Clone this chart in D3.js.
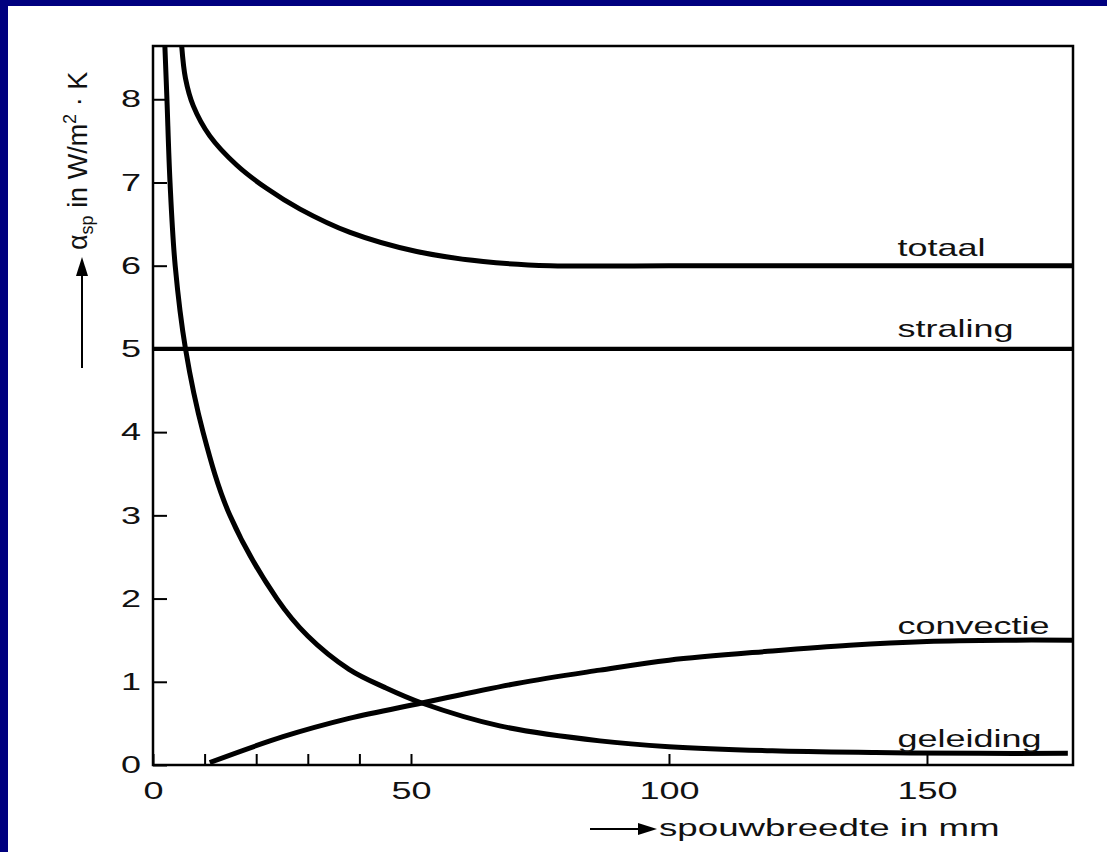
<!DOCTYPE html>
<html>
<head>
<meta charset="utf-8">
<script src="https://cdn.jsdelivr.net/npm/d3@7"></script>
<style>
  html, body { margin: 0; padding: 0; background: #fff; overflow: hidden; }
  svg { display: block; }
</style>
</head>
<body>
<svg id="chart" width="1107" height="852"></svg>
<script>
// values (x = spouwbreedte in mm, y = alpha in W/m2K)
var totaal = [[5.56, 8.64], [6.3, 8.25], [7.81, 7.92], [11, 7.56], [16.2, 7.21], [22, 6.93], [28.5, 6.68],
    [38.2, 6.4], [51.1, 6.17], [64, 6.05], [77, 6.0], [100, 6.0], [178.3, 6.0]];
var straling = [[0, 5], [178.3, 5]];
var convectie = [[11, 0.03], [25.2, 0.34], [38, 0.56], [52.1, 0.745], [70.5, 0.98],
    [86.6, 1.14], [100, 1.26], [120, 1.37], [135, 1.44], [150, 1.485], [165, 1.5], [178.3, 1.5]];
var geleiding = [[2.3, 8.64], [2.7, 8.0], [3.3, 7.0], [4.3, 6.0], [6.3, 5.0], [9.7, 4.0],
    [14.9, 3.0], [24, 2.0], [30, 1.55], [38, 1.15], [45, 0.93], [52.1, 0.745], [67.2, 0.47],
    [86.6, 0.29], [100, 0.22], [120, 0.17], [140, 0.15], [160, 0.14], [177.3, 0.14]];

var seriesNames = ["totaal", "straling", "convectie", "geleiding"];
var xTickLabels = [0, 50, 100, 150];
var xMinorTicks = [10, 20, 30, 40];
var yTickLabels = [0, 1, 2, 3, 4, 5, 6, 7, 8];

var font = "'Liberation Sans', Arial, Helvetica, sans-serif";
var margin = { top: 46, right: 34, bottom: 87, left: 153 };
var width = 1107 - margin.left - margin.right;
var height = 852 - margin.top - margin.bottom;

var svg = d3.select("#chart");

// blue slide edge, only visible on top and left
svg.append("rect").attr("x", 0).attr("y", 0).attr("width", 1107).attr("height", 6).attr("fill", "#00007f");
svg.append("rect").attr("x", 0).attr("y", 0).attr("width", 8).attr("height", 852).attr("fill", "#00007f");

var g = svg.append("g").attr("transform", "translate(" + margin.left + "," + margin.top + ")");

var x = d3.scaleLinear().domain([0, 178.3]).range([0, width]);
var y = d3.scaleLinear().domain([0, 8.64]).range([height, 0]);

g.append("clipPath").attr("id", "plotClip")
    .append("rect").attr("width", width).attr("height", height);

// axes, ticks point inwards
var xAxis = d3.axisBottom(x).tickValues(xTickLabels).tickSizeInner(-11).tickSizeOuter(0).tickPadding(17);
var xMinor = d3.axisBottom(x).tickValues(xMinorTicks).tickSizeInner(-11).tickSizeOuter(0).tickFormat("");
var yAxis = d3.axisLeft(y).tickValues(yTickLabels).tickSizeInner(-14).tickSizeOuter(0).tickPadding(8);

var gx = g.append("g").attr("transform", "translate(0," + height + ")").call(xAxis);
g.append("g").attr("transform", "translate(0," + height + ")").call(xMinor);
var gy = g.append("g").call(yAxis);

g.selectAll(".domain").remove();
g.selectAll(".tick line").attr("stroke", "#000").attr("stroke-width", 2);
[gx, gy].forEach(function (a) {
    a.attr("font-family", font).attr("font-size", 24);
    a.selectAll("text").attr("fill", "#111").attr("transform", "scale(1.5,1)");
});

// frame
g.append("rect")
    .attr("width", width).attr("height", height)
    .attr("fill", "none").attr("stroke", "#000").attr("stroke-width", 2.5);

var line = d3.line()
    .x(function (d) { return x(d[0]); })
    .y(function (d) { return y(d[1]); })
    .curve(d3.curveCatmullRom.alpha(0.5));

var curves = g.append("g").attr("clip-path", "url(#plotClip)");
[totaal, straling, convectie, geleiding].forEach(function (s, i) {
    curves.append("path")
        .datum(s)
        .attr("d", line)
        .attr("fill", "none")
        .attr("stroke", "#000")
        .attr("stroke-width", i == 1 ? 4.2 : 5)
        .attr("stroke-linecap", "butt");
});

// curve names, placed above each line near the right edge
var labelY = [6.12, 5.14, 1.58, 0.22];
seriesNames.forEach(function (name, i) {
    g.append("text")
        .attr("transform", "translate(" + x(144.3) + "," + y(labelY[i]) + ") scale(1.5,1)")
        .attr("font-family", font)
        .attr("font-size", 24)
        .attr("fill", "#111")
        .text(name);
});

// x axis title with arrow
svg.append("line").attr("x1", 590).attr("y1", 829).attr("x2", 645).attr("y2", 829)
    .attr("stroke", "#000").attr("stroke-width", 2);
svg.append("path").attr("d", "M638,823L657,829L638,835Z").attr("fill", "#000");
svg.append("text")
    .attr("transform", "translate(659,836) scale(1.53,1)")
    .attr("font-family", font).attr("font-size", 24).attr("fill", "#111")
    .text("spouwbreedte in mm");

// y axis title with arrow
svg.append("line").attr("x1", 82).attr("y1", 368).attr("x2", 82).attr("y2", 270)
    .attr("stroke", "#000").attr("stroke-width", 2);
svg.append("path").attr("d", "M76,276L82,257L88,276Z").attr("fill", "#000");

var yt = svg.append("text")
    .attr("transform", "translate(87,250) rotate(-90)")
    .attr("font-family", font).attr("font-size", 27).attr("fill", "#111");
yt.append("tspan").text("α");
yt.append("tspan").attr("font-size", 18).attr("dy", 6).text("sp");
yt.append("tspan").attr("dy", -6).text(" in W/m");
yt.append("tspan").attr("font-size", 18).attr("dy", -11).text("2");
yt.append("tspan").attr("dy", 11).text(" · K");
</script>
</body>
</html>
